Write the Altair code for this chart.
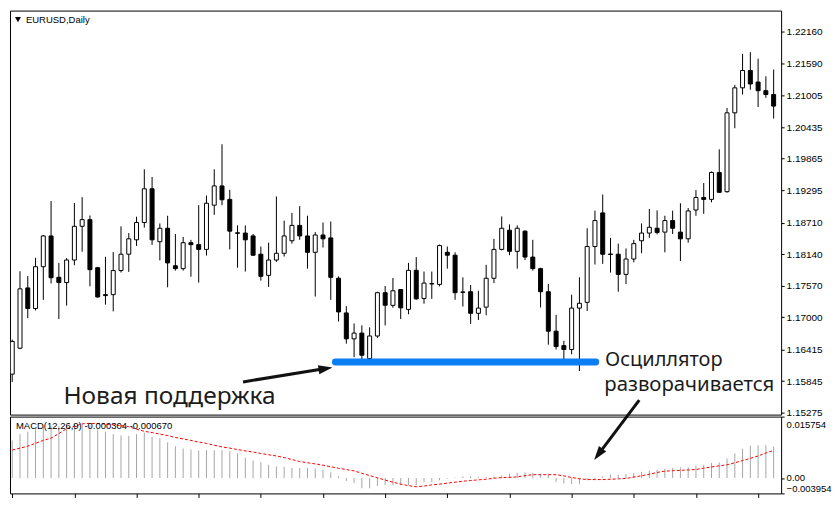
import altair as alt
import pandas as pd

# ---------------- data ----------------
opens = [1.15971, 1.16440, 1.17530, 1.17158, 1.17913, 1.18469, 1.17721, 1.17627, 1.18034, 1.18643,
         1.18764, 1.17895, 1.17408, 1.17408, 1.17843, 1.18139, 1.18399, 1.18712, 1.19321, 1.18365,
         1.18608, 1.17930, 1.17878, 1.18347, 1.18312, 1.18226, 1.19025, 1.19373, 1.19130, 1.18525,
         1.18521, 1.18469, 1.18139, 1.17756, 1.18034, 1.18156, 1.18382, 1.18660, 1.18469, 1.18173,
         1.18486, 1.18434, 1.17704, 1.17078, 1.16609, 1.16713, 1.16254, 1.16661, 1.17443, 1.17214,
         1.17501, 1.17141, 1.17848, 1.17339, 1.17601, 1.17593, 1.18173, 1.18121, 1.17457, 1.17461,
         1.17071, 1.17182, 1.17704, 1.18226, 1.18573, 1.18191, 1.18556, 1.18087, 1.17878, 1.17461,
         1.16748, 1.16487, 1.16417, 1.17165, 1.17269, 1.18278, 1.18886, 1.18142, 1.18139, 1.17774,
         1.18052, 1.18382, 1.18521, 1.18608, 1.18538, 1.18747, 1.18538, 1.18417, 1.18938, 1.19164,
         1.19130, 1.19616, 1.19269, 1.20694, 1.21146, 1.21459, 1.21251, 1.21094, 1.21025]
highs = [1.16596, 1.17831, 1.17744, 1.18074, 1.18486, 1.19100, 1.17982, 1.18069, 1.19065, 1.19170,
         1.18839, 1.17909, 1.18092, 1.18179, 1.18643, 1.18521, 1.18817, 1.19674, 1.19535, 1.18695,
         1.18834, 1.18504, 1.18452, 1.18399, 1.19025, 1.19199, 1.19674, 1.20126, 1.19303, 1.18660,
         1.18660, 1.18504, 1.18278, 1.18347, 1.19182, 1.18747, 1.18886, 1.19008, 1.18834, 1.18538,
         1.18712, 1.18730, 1.17739, 1.17200, 1.16887, 1.16852, 1.16817, 1.17461, 1.17565, 1.17709,
         1.17509, 1.17982, 1.18087, 1.17826, 1.17826, 1.18312, 1.18278, 1.18173, 1.17721, 1.17582,
         1.17478, 1.17947, 1.18417, 1.18822, 1.18678, 1.18660, 1.18570, 1.18399, 1.17895, 1.17600,
         1.17043, 1.16574, 1.17408, 1.17721, 1.18608, 1.18926, 1.19217, 1.18434, 1.18330, 1.18243,
         1.18399, 1.18695, 1.18956, 1.18931, 1.18834, 1.18926, 1.19060, 1.18973, 1.19297, 1.19425,
         1.19634, 1.20034, 1.20781, 1.21199, 1.21760, 1.21790, 1.21673, 1.21355, 1.21477]
lows = [1.15831, 1.16423, 1.16984, 1.17123, 1.17315, 1.17610, 1.16967, 1.17210, 1.17940, 1.18184,
        1.17558, 1.17353, 1.17228, 1.17106, 1.17808, 1.17819, 1.18288, 1.18619, 1.18306, 1.18027,
        1.17541, 1.17843, 1.17843, 1.17732, 1.17627, 1.18114, 1.18851, 1.19025, 1.18226, 1.17895,
        1.17826, 1.18109, 1.17662, 1.17548, 1.18000, 1.18097, 1.18330, 1.18399, 1.17878, 1.17374,
        1.18260, 1.17315, 1.16922, 1.16522, 1.16278, 1.16244, 1.16240, 1.16626, 1.16852, 1.17170,
        1.16967, 1.17054, 1.17315, 1.17245, 1.17332, 1.17558, 1.17878, 1.17315, 1.17193, 1.16880,
        1.16949, 1.17036, 1.17617, 1.18208, 1.18121, 1.17878, 1.18034, 1.17843, 1.17175, 1.16504,
        1.16417, 1.16244, 1.16330, 1.16028, 1.17113, 1.17953, 1.17965, 1.17808, 1.17461, 1.17600,
        1.17993, 1.18156, 1.18434, 1.18497, 1.18173, 1.18504, 1.18017, 1.18347, 1.18834, 1.18869,
        1.19077, 1.19251, 1.19251, 1.20416, 1.21025, 1.21112, 1.20799, 1.20966, 1.20590]
closes = [1.16562, 1.17513, 1.17158, 1.17913, 1.18469, 1.17714, 1.17627, 1.18034, 1.18643, 1.18764,
          1.17860, 1.17367, 1.17391, 1.17843, 1.18139, 1.18417, 1.18712, 1.19321, 1.18399, 1.18608,
          1.17982, 1.17878, 1.18347, 1.18312, 1.18226, 1.19060, 1.19373, 1.19123, 1.18556, 1.18518,
          1.18399, 1.18121, 1.17739, 1.18034, 1.18156, 1.18469, 1.18660, 1.18469, 1.18173, 1.18486,
          1.18417, 1.17721, 1.17096, 1.16609, 1.16713, 1.16313, 1.16661, 1.17443, 1.17217, 1.17478,
          1.17170, 1.17848, 1.17332, 1.17617, 1.17608, 1.18295, 1.18121, 1.17443, 1.17450, 1.17071,
          1.17165, 1.17704, 1.18226, 1.18608, 1.18191, 1.18608, 1.18087, 1.17878, 1.17461, 1.16748,
          1.16470, 1.16417, 1.17165, 1.17252, 1.18278, 1.18747, 1.18139, 1.18135, 1.17774, 1.18052,
          1.18330, 1.18521, 1.18625, 1.18532, 1.18747, 1.18608, 1.18417, 1.18921, 1.19164, 1.19130,
          1.19616, 1.19257, 1.20694, 1.21146, 1.21459, 1.21216, 1.21094, 1.21025, 1.20816]
macd_main = [0.00965, 0.01123, 0.01189, 0.01247, 0.01314, 0.01331, 0.01331, 0.01347, 0.01372, 0.01397,
             0.01355, 0.01247, 0.01189, 0.01123, 0.01089, 0.01081, 0.01123, 0.01164, 0.01056, 0.01023,
             0.00915, 0.00815, 0.00757, 0.00732, 0.00707, 0.00715, 0.00715, 0.00715, 0.00690, 0.00632,
             0.00524, 0.00449, 0.00407, 0.00341, 0.00299, 0.00291, 0.00258, 0.00258, 0.00258, 0.00241,
             0.00216, 0.00150, 0.00042, -0.00075, -0.00125, -0.00266, -0.00266, -0.00208, -0.00175, -0.00183,
             -0.00183, -0.00183, -0.00183, -0.00100, -0.00100, -0.00058, -0.00017, 0.00008, 0.00042, 0.00042,
             0.00025, 0.00025, 0.00042, 0.00067, 0.00108, 0.00133, 0.00141, 0.00133, 0.00108, 0.00083,
             -0.00100, -0.00141, -0.00158, -0.00158, -0.00058, -0.00042, 0.00042, 0.00091, 0.00083, 0.00100,
             0.00125, 0.00158, 0.00191, 0.00216, 0.00241, 0.00258, 0.00274, 0.00274, 0.00316, 0.00341,
             0.00383, 0.00399, 0.00499, 0.00632, 0.00748, 0.00832, 0.00840, 0.00840, 0.00807]
macd_signal = [0.00716, 0.00766, 0.00816, 0.00891, 0.00965, 0.01023, 0.01140, 0.01265, 0.01327, 0.01390,
               0.01402, 0.01395, 0.01385, 0.01365, 0.01345, 0.01315, 0.01252, 0.01198, 0.01165, 0.01128,
               0.01090, 0.01040, 0.01003, 0.00965, 0.00923, 0.00886, 0.00841, 0.00798, 0.00766, 0.00731,
               0.00696, 0.00666, 0.00629, 0.00596, 0.00566, 0.00524, 0.00474, 0.00422, 0.00392, 0.00362,
               0.00329, 0.00287, 0.00249, 0.00217, 0.00182, 0.00122, 0.00062, 0.00005, -0.00052, -0.00107,
               -0.00157, -0.00195, -0.00225, -0.00207, -0.00177, -0.00157, -0.00132, -0.00107, -0.00082, -0.00065,
               -0.00047, -0.00032, -0.00007, 0.00010, 0.00017, 0.00030, 0.00060, 0.00085, 0.00085, 0.00085,
               0.00085, 0.00055, 0.00012, -0.00020, -0.00040, -0.00040, -0.00040, -0.00032, -0.00022, -0.00012,
               0.00025, 0.00057, 0.00097, 0.00142, 0.00177, 0.00187, 0.00197, 0.00207, 0.00217, 0.00252,
               0.00284, 0.00312, 0.00339, 0.00392, 0.00447, 0.00504, 0.00566, 0.00641, 0.00709]

price_ticks = [1.15275, 1.15845, 1.16415, 1.17000, 1.17570, 1.18140, 1.18710,
               1.19295, 1.19865, 1.20435, 1.21005, 1.21590, 1.22160]
macd_ticks = [-0.003954, 0.0, 0.015754]
bar_ticks = list(range(0, 97, 8))

symbol_title = "EURUSD,Daily"
macd_title = "MACD(12,26,9) -0.000304 -0.000670"

# annotations (in candle index / price units)
support = {"x0": [41.6], "x1": [75.1], "p": [1.16191]}
arrows = {"x0": [29.71, 80.7], "y0": [1.15831, 1.15501],
          "x1": [40.32, 75.44], "y1": [1.16072, 1.14521], "ang": [81, 217]}
labels = {"t": ["Новая поддержка", "Осциллятор", "разворачивается"],
          "x": [6.59, 76.3, 76.2], "p": [1.15432, 1.16127, 1.15658],
          "fs": [24.5, 20, 20.4]}

# ---------------- build ----------------
n = len(opens)
df = pd.DataFrame({"i": list(range(n)), "open": opens, "high": highs, "low": lows,
                   "close": closes, "macd": macd_main, "signal": macd_signal})
df["top"] = df[["open", "close"]].max(axis=1)
df["bot"] = df[["open", "close"]].min(axis=1)
df["kind"] = ["up" if c >= o else "down" for o, c in zip(opens, closes)]
df["zero"] = 0.0

W = 773
H_MAIN = 405
H_MACD = 77
xs = alt.Scale(domain=[-0.2875, 98.9625], nice=False, zero=False, padding=0)
ps = alt.Scale(domain=[1.15240, 1.22542], nice=False, zero=False, padding=0)
ms = alt.Scale(domain=[-0.003954, 0.015754], nice=False, zero=False, padding=0)

LABEL_FONT = "Liberation Sans"

price_axis = alt.Axis(orient="right", values=price_ticks, format=".5f", tickSize=3,
                      labelPadding=2, domain=False, grid=False, title=None,
                      labelFlush=False, labelOverlap=False, labelFont=LABEL_FONT,
                      labelFontSize=10, labelColor="black", tickColor="black")
macd_axis = alt.Axis(orient="right", values=macd_ticks,
                     labelExpr="datum.value == 0 ? '0.00' : format(datum.value, '.6f')",
                     labelFlush=True, labelOverlap=False, tickSize=3, labelPadding=2,
                     labelOffset={"condition": {"test": "datum.value > 0.01", "value": 3},
                                  "value": 0},
                     domain=False, grid=False, title=None, labelFont=LABEL_FONT,
                     labelFontSize=9.5, labelColor="black", tickColor="black")
x_axis = alt.Axis(values=bar_ticks, labels=False, tickSize=4, domain=False, grid=False,
                  title=None, tickColor="black")


def PX(field):
    return alt.X(field, scale=xs, axis=None)


def PY(field):
    return alt.Y(field, scale=ps, axis=price_axis)


base = alt.Chart(df)
wicks = base.mark_rule(color="black", strokeWidth=1, clip=True).encode(
    x=PX("i:Q"), y=PY("low:Q"), y2="high:Q")
bodies = base.mark_bar(size=4, stroke="black", strokeWidth=1, clip=True).encode(
    x=PX("i:Q"), y=PY("bot:Q"), y2="top:Q",
    fill=alt.Fill("kind:N", scale=alt.Scale(domain=["up", "down"], range=["white", "black"]),
                  legend=None),
)

sup = alt.Chart(pd.DataFrame(support)).mark_rule(
    color="#0a7ef2", strokeWidth=7, strokeCap="round").encode(
    x=PX("x0:Q"), x2="x1:Q", y=PY("p:Q"))

adf = pd.DataFrame(arrows)
shafts = alt.Chart(adf).mark_rule(color="#111111", strokeWidth=3, clip=False).encode(
    x=PX("x0:Q"), x2="x1:Q", y=PY("y0:Q"), y2="y1:Q")
heads = alt.Chart(adf).mark_point(shape="M0,-1L-0.65,1L0.65,1Z", filled=True, size=196,
                                  color="#111111", opacity=1, clip=False).encode(
    x=PX("x1:Q"), y=PY("y1:Q"), angle=alt.Angle("ang:Q", scale=None))

ldf = pd.DataFrame(labels)
texts = alt.Chart(ldf).mark_text(align="left", baseline="alphabetic", font="Noto Sans",
                                 color="#1c1c1c", clip=False).encode(
    x=PX("x:Q"), y=PY("p:Q"), text="t:N",
    size=alt.Size("fs:Q", scale=None, legend=None))

title_df = pd.DataFrame({"t": [symbol_title]})
title_txt = alt.Chart(title_df).mark_text(align="left", baseline="middle", font=LABEL_FONT,
                                          fontSize=9.5, color="black").encode(
    x=alt.value(16), y=alt.value(9), text="t:N")
title_tri = alt.Chart(title_df).mark_point(shape="triangle-down", filled=True, size=36,
                                           color="black", opacity=1).encode(
    x=alt.value(8), y=alt.value(9))

main = alt.layer(wicks, bodies, sup, shafts, heads, texts, title_txt, title_tri).properties(
    width=W, height=H_MAIN)

hist = base.mark_rule(color="#a6a6a6", strokeWidth=1, clip=True).encode(
    x=alt.X("i:Q", scale=xs, axis=x_axis),
    y=alt.Y("zero:Q", scale=ms, axis=macd_axis),
    y2="macd:Q")
sig = base.mark_line(color="#ff0000", strokeWidth=1, strokeDash=[3, 2], clip=True).encode(
    x=alt.X("i:Q", scale=xs, axis=x_axis),
    y=alt.Y("signal:Q", scale=ms, axis=macd_axis))
mtitle = alt.Chart(pd.DataFrame({"t": [macd_title]})).mark_text(
    align="left", baseline="middle", font=LABEL_FONT, fontSize=9.5, color="black").encode(
    x=alt.value(6), y=alt.value(9), text="t:N")

macd = alt.layer(hist, sig, mtitle).properties(width=W, height=H_MACD)

chart = alt.vconcat(main, macd, spacing=2, bounds="flush").properties(
    padding={"left": 1, "top": 1, "right": 0, "bottom": 0}
).configure_view(stroke="black", strokeWidth=1)

chart.save("out.html", embed_options={"renderer": "svg", "actions": False})
